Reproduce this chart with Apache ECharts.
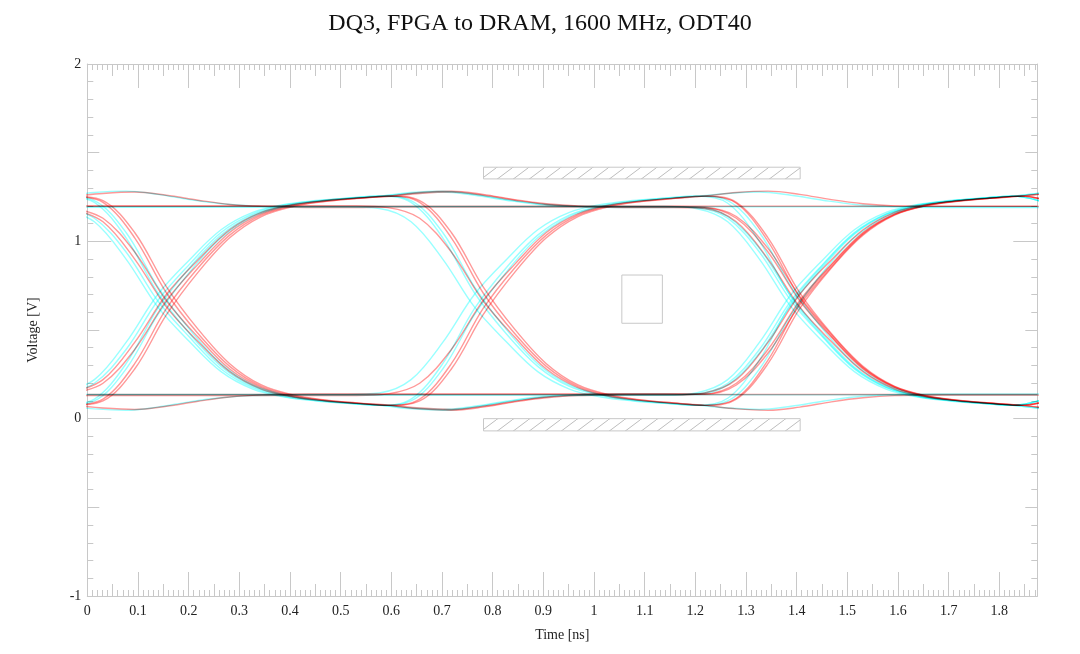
<!DOCTYPE html>
<html>
<head>
<meta charset="utf-8">
<title>DQ3 eye diagram</title>
<script src="https://cdn.jsdelivr.net/npm/echarts@6/dist/echarts.min.js"></script>
<style>
  html, body { margin: 0; padding: 0; background: #fff; }
  #chart { width: 1080px; height: 654px; }
</style>
</head>
<body>
<div id="chart"></div>
<script>
// sample times (ns) of the two simulated waveforms, one grid per colour
const cyanTimes = [-0.0485, 0.014, 0.0765, 0.139, 0.2015, 0.264, 0.3265, 0.389, 0.4515, 0.514,
  0.5765, 0.639, 0.7015, 0.764, 0.8265, 0.889, 0.9515, 1.014, 1.0765, 1.139,
  1.2015, 1.264, 1.3265, 1.389, 1.4515, 1.514, 1.5765, 1.639, 1.7015, 1.764,
  1.8265, 1.889]
const redTimes = [-0.0315, 0.031, 0.0935, 0.156, 0.2185, 0.281, 0.3435, 0.406, 0.4685, 0.531,
  0.5935, 0.656, 0.7185, 0.781, 0.8435, 0.906, 0.9685, 1.031, 1.0935, 1.156,
  1.2185, 1.281, 1.3435, 1.406, 1.4685, 1.531, 1.5935, 1.656, 1.7185, 1.781,
  1.8435, 1.906]
const flatTimes = [0, 1.875]

// voltages (V)
const cyan01 = [0.14, 0.20, 0.39, 0.665, 0.87, 1.05, 1.155, 1.205, 1.228, 1.243,
  1.255, 1.275, 1.283, 1.265, 1.235, 1.212, 1.2, 1.198, 1.197, 1.197,
  1.19, 1.13, 0.94, 0.665, 0.46, 0.28, 0.175, 0.125, 0.102, 0.087, 0.075, 0.11]
const cyan02 = [1.19, 1.13, 0.94, 0.665, 0.46, 0.28, 0.175, 0.125, 0.102, 0.087,
  0.075, 0.055, 0.047, 0.065, 0.095, 0.118, 0.13, 0.132, 0.133, 0.133,
  0.14, 0.20, 0.39, 0.665, 0.87, 1.05, 1.155, 1.205, 1.228, 1.243, 1.255, 1.22]
const cyan03 = [1.255, 1.22, 1.02, 0.71, 0.48, 0.295, 0.182, 0.13, 0.104, 0.088,
  0.075, 0.11, 0.31, 0.62, 0.85, 1.035, 1.148, 1.2, 1.226, 1.242,
  1.253, 1.27, 1.278, 1.26, 1.232, 1.208, 1.197, 1.192, 1.191, 1.191, 1.191, 1.191]
const cyan04 = [0.075, 0.11, 0.31, 0.62, 0.85, 1.035, 1.148, 1.2, 1.226, 1.242,
  1.255, 1.22, 1.02, 0.71, 0.48, 0.295, 0.182, 0.13, 0.104, 0.088,
  0.077, 0.06, 0.052, 0.07, 0.098, 0.122, 0.134, 0.138, 0.139, 0.139, 0.139, 0.139]
const cyan05 = [1.193, 1.193, 1.193, 1.193, 1.193, 1.193, 1.193, 1.193, 1.193, 1.193,
  1.185, 1.11, 0.90, 0.63, 0.435, 0.265, 0.167, 0.122, 0.10, 0.086,
  0.075, 0.10, 0.28, 0.585, 0.825, 1.02, 1.14, 1.196, 1.224, 1.241, 1.255, 1.275]
const cyan06 = [0.137, 0.137, 0.137, 0.137, 0.137, 0.137, 0.137, 0.137, 0.137, 0.137,
  0.145, 0.22, 0.43, 0.70, 0.895, 1.065, 1.163, 1.208, 1.23, 1.244,
  1.256, 1.23, 1.05, 0.745, 0.505, 0.31, 0.19, 0.134, 0.106, 0.089, 0.075, 0.055]
const cyan07 = [1.255, 1.275, 1.283, 1.265, 1.235, 1.212, 1.2, 1.198, 1.197, 1.197,
  1.197, 1.197, 1.197, 1.197, 1.197, 1.197, 1.197, 1.197, 1.197, 1.197,
  1.185, 1.11, 0.90, 0.63, 0.435, 0.265, 0.167, 0.122, 0.10, 0.086, 0.075, 0.055]
const cyan08 = [0.075, 0.055, 0.047, 0.065, 0.095, 0.118, 0.13, 0.132, 0.133, 0.133,
  0.133, 0.133, 0.133, 0.133, 0.133, 0.133, 0.133, 0.133, 0.133, 0.133,
  0.145, 0.22, 0.43, 0.70, 0.895, 1.065, 1.163, 1.208, 1.23, 1.244, 1.255, 1.275]
const cyan09 = [0.075, 0.10, 0.28, 0.585, 0.825, 1.02, 1.14, 1.196, 1.224, 1.241,
  1.253, 1.27, 1.278, 1.26, 1.232, 1.208, 1.197, 1.192, 1.191, 1.191,
  1.192, 1.14, 0.96, 0.69, 0.475, 0.29, 0.18, 0.127, 0.103, 0.087, 0.075, 0.11]
const cyan10 = [1.256, 1.23, 1.05, 0.745, 0.505, 0.31, 0.19, 0.134, 0.106, 0.089,
  0.077, 0.06, 0.052, 0.07, 0.098, 0.122, 0.134, 0.138, 0.139, 0.139,
  0.138, 0.19, 0.37, 0.64, 0.855, 1.04, 1.15, 1.203, 1.227, 1.243, 1.255, 1.22]
const cyan11 = [1.185, 1.11, 0.90, 0.63, 0.435, 0.265, 0.167, 0.122, 0.10, 0.086,
  0.075, 0.10, 0.28, 0.585, 0.825, 1.02, 1.14, 1.196, 1.224, 1.241,
  1.255, 1.215, 1.0, 0.685, 0.465, 0.285, 0.178, 0.128, 0.103, 0.088, 0.075, 0.11]
const cyan12 = [0.145, 0.22, 0.43, 0.70, 0.895, 1.065, 1.163, 1.208, 1.23, 1.244,
  1.256, 1.23, 1.05, 0.745, 0.505, 0.31, 0.19, 0.134, 0.106, 0.089,
  0.075, 0.115, 0.33, 0.65, 0.865, 1.045, 1.152, 1.202, 1.227, 1.242, 1.255, 1.22]

const red01 = [0.145, 0.22, 0.43, 0.70, 0.895, 1.065, 1.163, 1.208, 1.23, 1.244,
  1.253, 1.27, 1.278, 1.26, 1.232, 1.208, 1.197, 1.192, 1.191, 1.191,
  1.185, 1.11, 0.90, 0.63, 0.435, 0.265, 0.167, 0.122, 0.10, 0.086, 0.075, 0.11]
const red02 = [1.185, 1.11, 0.90, 0.63, 0.435, 0.265, 0.167, 0.122, 0.10, 0.086,
  0.075, 0.055, 0.047, 0.065, 0.095, 0.118, 0.13, 0.132, 0.133, 0.133,
  0.145, 0.22, 0.43, 0.70, 0.895, 1.065, 1.163, 1.208, 1.23, 1.244, 1.255, 1.22]
const red03 = [1.256, 1.23, 1.05, 0.745, 0.505, 0.31, 0.19, 0.134, 0.106, 0.089,
  0.075, 0.10, 0.28, 0.585, 0.825, 1.02, 1.14, 1.196, 1.224, 1.241,
  1.255, 1.275, 1.283, 1.265, 1.235, 1.212, 1.2, 1.198, 1.197, 1.197, 1.197, 1.197]
const red04 = [0.075, 0.10, 0.28, 0.585, 0.825, 1.02, 1.14, 1.196, 1.224, 1.241,
  1.256, 1.23, 1.05, 0.745, 0.505, 0.31, 0.19, 0.134, 0.106, 0.089,
  0.075, 0.055, 0.047, 0.065, 0.095, 0.118, 0.13, 0.132, 0.133, 0.133, 0.133, 0.133]
const red05 = [1.199, 1.199, 1.199, 1.199, 1.199, 1.199, 1.199, 1.199, 1.199, 1.199,
  1.19, 1.13, 0.94, 0.665, 0.46, 0.28, 0.175, 0.125, 0.102, 0.087,
  0.075, 0.11, 0.31, 0.62, 0.85, 1.035, 1.148, 1.2, 1.226, 1.242, 1.255, 1.275]
const red06 = [0.131, 0.131, 0.131, 0.131, 0.131, 0.131, 0.131, 0.131, 0.131, 0.131,
  0.14, 0.20, 0.39, 0.665, 0.87, 1.05, 1.155, 1.205, 1.228, 1.243,
  1.255, 1.22, 1.02, 0.71, 0.48, 0.295, 0.182, 0.13, 0.104, 0.088, 0.075, 0.055]
const red07 = [1.253, 1.27, 1.278, 1.26, 1.232, 1.208, 1.197, 1.192, 1.191, 1.191,
  1.193, 1.193, 1.193, 1.193, 1.193, 1.193, 1.193, 1.193, 1.193, 1.193,
  1.19, 1.13, 0.94, 0.665, 0.46, 0.28, 0.175, 0.125, 0.102, 0.087, 0.075, 0.055]
const red08 = [0.077, 0.06, 0.052, 0.07, 0.098, 0.122, 0.134, 0.138, 0.139, 0.139,
  0.139, 0.139, 0.139, 0.139, 0.139, 0.139, 0.139, 0.139, 0.139, 0.139,
  0.14, 0.20, 0.39, 0.665, 0.87, 1.05, 1.155, 1.205, 1.228, 1.243, 1.255, 1.275]
const red09 = [0.075, 0.11, 0.31, 0.62, 0.85, 1.035, 1.148, 1.2, 1.226, 1.242,
  1.255, 1.275, 1.283, 1.265, 1.235, 1.212, 1.2, 1.198, 1.197, 1.197,
  1.192, 1.14, 0.96, 0.69, 0.475, 0.29, 0.18, 0.127, 0.103, 0.087, 0.075, 0.11]
const red10 = [1.255, 1.22, 1.02, 0.71, 0.48, 0.295, 0.182, 0.13, 0.104, 0.088,
  0.077, 0.06, 0.052, 0.07, 0.098, 0.122, 0.134, 0.138, 0.139, 0.139,
  0.138, 0.19, 0.37, 0.64, 0.855, 1.04, 1.15, 1.203, 1.227, 1.243, 1.255, 1.22]
const red11 = [1.19, 1.13, 0.94, 0.665, 0.46, 0.28, 0.175, 0.125, 0.102, 0.087,
  0.075, 0.11, 0.31, 0.62, 0.85, 1.035, 1.148, 1.2, 1.226, 1.242,
  1.255, 1.215, 1.0, 0.685, 0.465, 0.285, 0.178, 0.128, 0.103, 0.088, 0.075, 0.11]
const red12 = [0.14, 0.20, 0.39, 0.665, 0.87, 1.05, 1.155, 1.205, 1.228, 1.243,
  1.255, 1.22, 1.02, 0.71, 0.48, 0.295, 0.182, 0.13, 0.104, 0.088,
  0.075, 0.115, 0.33, 0.65, 0.865, 1.045, 1.152, 1.202, 1.227, 1.242, 1.255, 1.22]

// long runs of ones / zeros
const cyanHigh = [1.195, 1.195]
const cyanLow = [0.135, 0.135]
const redHigh = [1.198, 1.198]
const redLow = [0.136, 0.136]

// eye mask: [t0, v0, t1, v1]
const maskBars = [[0.782, 1.352, 1.407, 1.418], [0.782, -0.069, 1.407, 0]]
const eyeBox = [[1.055, 0.538, 1.135, 0.81]]

const cyanTraces = [cyan01, cyan02, cyan03, cyan04, cyan05, cyan06, cyan07, cyan08, cyan09, cyan10, cyan11, cyan12]
const redTraces = [red01, red02, red03, red04, red05, red06, red07, red08, red09, red10, red11, red12]

const serif = '"Liberation Serif", "DejaVu Serif", serif'
const frameGray = '#c8c8c8'

// hatch tile for the mask bars
const makeHatch = () => {
    const c = document.createElement('canvas')
    c.width = 16
    c.height = 12
    const g = c.getContext('2d')
    g.strokeStyle = '#bdbdbd'
    g.lineWidth = 1
    g.beginPath()
    g.moveTo(0, 12); g.lineTo(16, 0)
    g.moveTo(-16, 12); g.lineTo(0, 0)
    g.moveTo(16, 12); g.lineTo(32, 0)
    g.stroke()
    return { image: c, repeat: 'repeat' }
}
const hatch = makeHatch()

// multiply blending: cyan over red turns grey, like the original plot
const trace = (times, values, color, opacity) => ({
    type: 'line',
    data: times.map((t, i) => [t, values[i]]),
    showSymbol: false,
    smooth: 0.35,
    silent: true,
    blendMode: 'multiply',
    lineStyle: { color, width: 1.4, opacity },
    z: 3,
})

const boxSeries = (data, fill) => ({
    type: 'custom',
    data,
    silent: true,
    encode: { x: [0, 2], y: [1, 3] },
    renderItem: (params, api) => {
        const a = api.coord([api.value(0), api.value(3)])
        const b = api.coord([api.value(2), api.value(1)])
        return {
            type: 'rect',
            shape: { x: a[0], y: a[1], width: b[0] - a[0], height: b[1] - a[1] },
            style: { fill, stroke: frameGray, lineWidth: 1 },
        }
    },
    z: 2,
})

const xLabel = v => Math.abs(v * 10 - Math.round(v * 10)) < 1e-6 ? String(+v.toFixed(1)) : ''

const xAxisBase = (position, interval, len, extra) => Object.assign({
    type: 'value', min: 0, max: 1.875, interval, position,
    axisLine: { show: false, onZero: false },
    axisTick: { inside: true, length: len, lineStyle: { color: frameGray } },
    axisLabel: { show: false },
    splitLine: { show: false },
}, extra)

const yAxisBase = (position, interval, len, extra) => Object.assign({
    type: 'value', min: -1, max: 2, interval, position,
    axisLine: { show: false, onZero: false },
    axisTick: { inside: true, length: len, lineStyle: { color: frameGray } },
    axisLabel: { show: false },
    splitLine: { show: false },
}, extra)

const lineOn = { show: true, onZero: false, lineStyle: { color: frameGray, width: 1 } }
const minor = { show: true, splitNumber: 10, length: 6, lineStyle: { color: frameGray } }

const option = {
    backgroundColor: '#ffffff',
    animation: false,
    title: {
        text: 'DQ3, FPGA to DRAM, 1600 MHz, ODT40',
        left: 'center',
        top: 7,
        textStyle: { fontFamily: serif, fontSize: 24, fontWeight: 'normal', color: '#111' },
    },
    grid: { left: 87.3, right: 42.7, top: 64, bottom: 58, outerBoundsMode: 'none' },
    xAxis: [
        xAxisBase('bottom', 0.1, 24, {
            axisLine: lineOn,
            minorTick: minor,
            axisLabel: { show: true, formatter: xLabel, fontFamily: serif, fontSize: 14, color: '#222', margin: 8 },
            name: 'Time [ns]', nameLocation: 'middle', nameGap: 32,
            nameTextStyle: { fontFamily: serif, fontSize: 14, color: '#222' },
        }),
        xAxisBase('bottom', 0.05, 12),
        xAxisBase('top', 0.1, 24, { axisLine: lineOn, minorTick: minor }),
        xAxisBase('top', 0.05, 12),
    ],
    yAxis: [
        yAxisBase('left', 1, 24, {
            axisLine: lineOn,
            minorTick: minor,
            axisLabel: { show: true, fontFamily: serif, fontSize: 14, color: '#222', margin: 6 },
            name: 'Voltage [V]', nameLocation: 'middle', nameGap: 47, nameRotate: 90,
            nameTextStyle: { fontFamily: serif, fontSize: 14, color: '#222' },
        }),
        yAxisBase('left', 0.5, 12),
        yAxisBase('right', 1, 24, { axisLine: lineOn, minorTick: minor }),
        yAxisBase('right', 0.5, 12),
    ],
    series: [
        boxSeries(maskBars, hatch),
        boxSeries(eyeBox, 'none'),
        ...cyanTraces.map(v => trace(cyanTimes, v, '#00ffff', 0.4)),
        trace(flatTimes, cyanHigh, '#00ffff', 0.4),
        trace(flatTimes, cyanLow, '#00ffff', 0.4),
        ...redTraces.map(v => trace(redTimes, v, '#ff0000', 0.4)),
        trace(flatTimes, redHigh, '#ff0000', 0.4),
        trace(flatTimes, redLow, '#ff0000', 0.4),
    ],
}

const chart = echarts.init(document.getElementById('chart'))
chart.setOption(option)
</script>
</body>
</html>
